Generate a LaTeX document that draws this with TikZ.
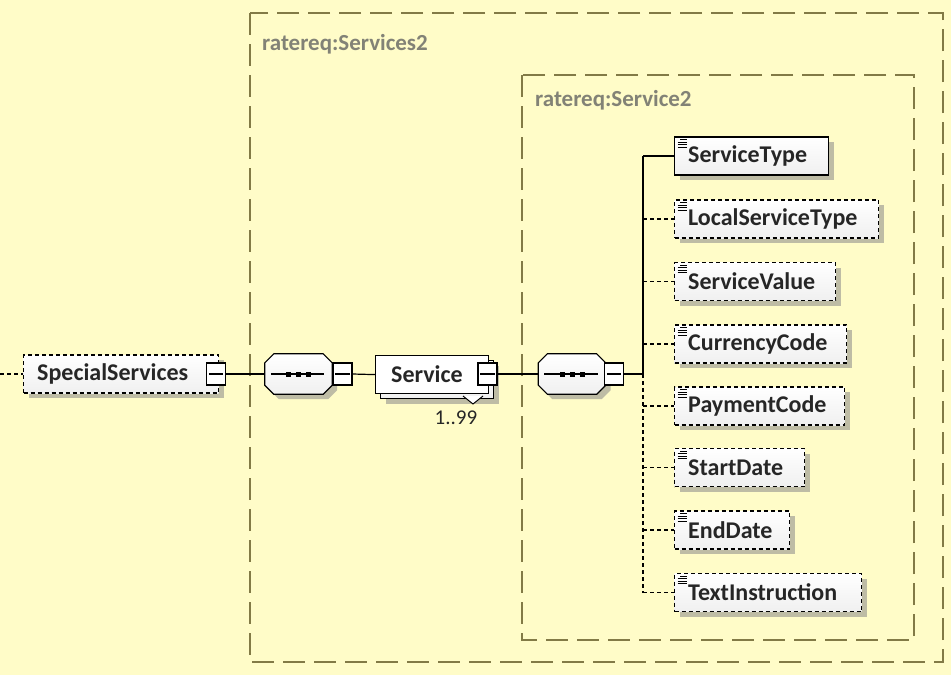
\documentclass[tikz,border=0pt]{standalone}
\usepackage{fontspec}
\setmainfont{Carlito}
\usetikzlibrary{shadows,calc}
\definecolor{bgyellow}{RGB}{255,252,200}
\definecolor{frameolive}{RGB}{130,122,70}
\definecolor{labelgray}{RGB}{130,130,118}
\definecolor{shadowgray}{RGB}{190,188,165}
\begin{document}
\begin{tikzpicture}[x=1pt,y=-1pt,
  frame/.style={draw=frameolive, line width=1.4pt, dash pattern=on 22pt off 9pt},
  framelabel/.style={text=labelgray, font=\fontsize{23}{27}\selectfont\bfseries, anchor=west, inner sep=0pt},
  elembox/.style={draw=black, line width=1.2pt, top color=white, bottom color=black!6, inner sep=0pt,
    general shadow={fill=shadowgray, shadow xshift=5pt, shadow yshift=-5pt}},
  optbox/.style={elembox, dash pattern=on 4pt off 3pt},
  plainbox/.style={draw=black, line width=1.2pt, fill=white, inner sep=0pt},
  elemtext/.style={font=\fontsize{24}{28}\selectfont\bfseries, text=black!85, anchor=west, inner sep=0pt},
  minusbox/.style={draw=black, line width=1.2pt, fill=white, minimum width=19pt, minimum height=22pt, inner sep=0pt},
  conn/.style={draw=black, line width=1.2pt},
  optconn/.style={conn, dash pattern=on 4pt off 3pt},
  compnode/.style={minimum width=67pt, minimum height=40pt, inner sep=0pt}
]
\useasboundingbox (0,0) rectangle (951,675);
\fill[bgyellow] (0,0) rectangle (951,675);

% frames
\draw[frame] (250,13) rectangle (943,662);
\node[framelabel] (lblouter) at (262,44) {ratereq:Services2};
\draw[frame] (522,75) rectangle (914,640);
\node[framelabel] (lblinner) at (535,100) {ratereq:Service2};

% minus-box macro
\newcommand{\minusmark}[1]{\draw[black, line width=1.2pt] ([xshift=3pt]#1.west) -- ([xshift=-3pt]#1.east);}
% compositor macro
\newcommand{\compositor}[1]{%
  \fill[shadowgray] ([xshift=14pt,yshift=-5pt]#1.north west) -- ([xshift=-4pt,yshift=-5pt]#1.north east) -- ([xshift=5pt,yshift=-14pt]#1.north east) -- ([xshift=5pt,yshift=4pt]#1.south east) -- ([xshift=-4pt,yshift=-5pt]#1.south east) -- ([xshift=14pt,yshift=-5pt]#1.south west) -- ([xshift=5pt,yshift=4pt]#1.south west) -- ([xshift=5pt,yshift=-14pt]#1.north west) -- cycle;
  \draw[black, line width=1.2pt, top color=white, bottom color=black!6] ([xshift=9pt]#1.north west) -- ([xshift=-9pt]#1.north east) -- ([yshift=-9pt]#1.north east) -- ([yshift=9pt]#1.south east) -- ([xshift=-9pt]#1.south east) -- ([xshift=9pt]#1.south west) -- ([yshift=9pt]#1.south west) -- ([yshift=-9pt]#1.north west) -- cycle;
  \draw[black, line width=1.2pt] ([xshift=6pt]#1.west) -- ([xshift=-8pt]#1.east);
  \foreach \dx in {-10,0,10} {\fill[black] ($(#1.center)+(\dx,0)+(-2.5,-2.5)$) rectangle ++(5,5);}
}
% icon macro
\newcommand{\elemicon}[1]{%
  \foreach \dy/\xs in {3.5/6,6/3.5,8.5/3.5,11/3.5} {\draw[black, line width=1pt] ([xshift=\xs pt, yshift=-\dy pt]#1.north west) -- ([xshift=13pt, yshift=-\dy pt]#1.north west);}
}

% SpecialServices
\node[optbox, minimum width=195pt, minimum height=38pt, anchor=west] (ss) at (23,374) {};
\node[elemtext] (sstxt) at (37,374) {SpecialServices};
\node[minusbox] (ssm) at (216,374) {};
\minusmark{ssm}
\coordinate (inleft) at (0,374);
\draw[optconn] (inleft) -- (ss.west);

% sequence 1
\node[compnode] (q1) at (298.5,374) {};
\compositor{q1}
\node[minusbox] (q1m) at (342.5,374) {};
\minusmark{q1m}
\draw[conn] (ssm.east) -- (q1.west);

% Service (repeating)
\node[elembox, minimum width=113pt, minimum height=38pt, anchor=north west] (svback) at (380,360) {};
\node[plainbox, minimum width=113pt, minimum height=38pt, anchor=north west] (sv) at (375,355) {};
\node[elemtext] (svtxt) at (391,374) {Service};
\node[minusbox] (svm) at (487.5,374) {};
\minusmark{svm}
\draw[black, line width=1pt, fill=white] (463,396) -- (473,404) -- (483,396);
\node[font=\fontsize{21}{24}\selectfont, text=black!85, inner sep=0pt] (occ) at (456,418) {1..99};
\draw[conn] (q1m.east) -- (sv.west);

% sequence 2
\node[compnode] (q2) at (572,374) {};
\compositor{q2}
\node[minusbox] (q2m) at (614,374) {};
\minusmark{q2m}
\draw[conn] (svm.east) -- (q2.west);

% children
\coordinate (trunk) at (643,374);
\draw[conn] (q2m.east) -- (trunk);
\foreach \n/\w/\y/\t/\s in {
  c1/154/156/ServiceType/elembox,
  c2/204/219/LocalServiceType/optbox,
  c3/161/281.5/ServiceValue/optbox,
  c4/172/344/CurrencyCode/optbox,
  c5/170/406/PaymentCode/optbox,
  c6/130/467.5/StartDate/optbox,
  c7/115/530/EndDate/optbox,
  c8/187/592.5/TextInstruction/optbox} {
  \node[\s, minimum width=\w pt, minimum height=38pt, anchor=west] (\n) at (674,\y) {};
  \node[elemtext] (\n txt) at (688,\y) {\t};
  \elemicon{\n}
  \coordinate (\n j) at (643,\y);
}
\draw[conn] (c1j) -- (trunk);
\draw[optconn] (trunk) -- (c8j);
\draw[conn] (c1j) -- (c1.west);
\foreach \n in {c2,c3,c4,c5,c6,c7,c8} {\draw[optconn] (\n j) -- (\n.west);}
\end{tikzpicture}
\end{document}
